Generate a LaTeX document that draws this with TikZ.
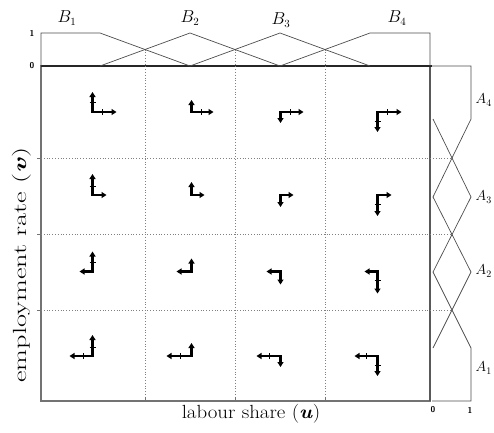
\documentclass[tikz,border=0pt]{standalone}
\usepackage{graphicx}
\usetikzlibrary{arrows.meta,calc}
\newcommand\vecpair[5]{%
  \coordinate (#1) at (#2,#3);
  \draw[vec] (#1) -- ++(#4,0);
  \draw[vec] (#1) -- ++(0,#5);
}
\newcommand\tickh[2]{\draw[tk] ($(#1)+(#2,-3)$) -- ++(0,6);}
\newcommand\tickv[2]{\draw[tk] ($(#1)+(-3,#2)$) -- ++(6,0);}
\begin{document}
\begin{tikzpicture}[x=1pt,y=-1pt,
  memb/.style={draw=black!70, line width=0.7pt},
  frame/.style={draw=black!55, line width=1.2pt},
  gridl/.style={draw=black!50, line width=0.8pt, dotted},
  vec/.style={line width=2.2pt, line cap=rect, -{Triangle[length=5pt,width=6pt]}},
  tk/.style={line width=0.7pt},
  small/.style={font=\sffamily\bfseries\fontsize{8.5}{8.5}\selectfont},
  mlab/.style={font=\fontsize{16}{16}\selectfont},
  alab/.style={font=\fontsize{14}{14}\selectfont, anchor=east, inner sep=1pt},
  big/.style={font=\fontsize{19}{19}\selectfont}
]
\useasboundingbox (0,0) rectangle (494,432);
% main frame
\draw[frame] (41,66) rectangle (430,401);
\draw[draw=black!65, line width=2pt] (430,66) -- (430,401);
\draw[draw=black!85, line width=1.5pt] (41,66) -- (432,66);
% dotted grid
\foreach \x in {145,235,325} \draw[gridl] (\x,49.5) -- (\x,401);
\foreach \y in {158,234.5,310} \draw[gridl] (41,\y) -- (452,\y);
% axis ticks
\foreach \y in {158,234.5,310} \draw[frame, line width=0.7pt] (37,\y) -- (41,\y);
\foreach \x in {145,235,325} \draw[frame, line width=0.7pt] (\x,397) -- (\x,401);
% top membership functions
\draw[memb] (41,66) -- (41,33) -- (100,33) -- (190,66);
\draw[memb] (100,66) -- (190,33) -- (280,66);
\draw[memb] (190,66) -- (280,33) -- (370,66);
\draw[memb] (280,66) -- (370,33) -- (430,33) -- (430,66);
% right membership functions
\draw[memb] (432,66) -- (471,66) -- (471,119) -- (433,197);
\draw[memb] (433,119) -- (471,197) -- (433,272);
\draw[memb] (433,197) -- (471,272) -- (433,348);
\draw[memb] (433,272) -- (471,348) -- (471,401) -- (432,401);
% labels of membership panels
\node[small] (one) at (32,33) {1};
\node[small] (zero) at (32,66) {0};
\node[small] (rzero) at (433,410) {0};
\node[small] (rone) at (470,410) {1};
\node[mlab] (B1) at (67,18) {$B_1$};
\node[mlab] (B2) at (190,18) {$B_2$};
\node[mlab] (B3) at (281,20) {$B_3$};
\node[mlab] (B4) at (397,18) {$B_4$};
\node[alab] (A4) at (493,100) {$A_4$};
\node[alab] (A3) at (493,197) {$A_3$};
\node[alab] (A2) at (493,271) {$A_2$};
\node[alab] (A1) at (493,368) {$A_1$};
% axis labels
\node[big] (xl) at (251,414) {\scalebox{1.1}[1]{labour share (\textbf{\textit{u}})}};
\node[big, rotate=90] (yl) at (22,265) {\scalebox{1.49}[1]{employment rate (\textbf{\textit{v}})}};
% vector field
\vecpair{a41}{92.5}{112}{24}{-20} \tickh{a41}{10} \tickv{a41}{-10}
\vecpair{a42}{191.5}{112}{22}{-12} \tickh{a42}{10}
\vecpair{a43}{280.5}{112}{23}{11} \tickh{a43}{10}
\vecpair{a44}{377.5}{112}{24}{20} \tickh{a44}{10} \tickv{a44}{9}
\vecpair{a31}{92.5}{195}{14}{-21} \tickv{a31}{-9}
\vecpair{a32}{191.5}{195}{13}{-13}
\vecpair{a33}{280.5}{195}{13}{12}
\vecpair{a34}{377.5}{195}{14}{21} \tickv{a34}{9}
\vecpair{a21}{92.5}{271.5}{-13}{-20} \tickv{a21}{-9}
\vecpair{a22}{191.5}{271.5}{-15}{-13}
\vecpair{a23}{280.5}{271.5}{-14}{13}
\vecpair{a24}{377.5}{271.5}{-13}{22} \tickv{a24}{9}
\vecpair{a11}{92.5}{356}{-23}{-21} \tickh{a11}{-9} \tickv{a11}{-9}
\vecpair{a12}{191.5}{356}{-25}{-13} \tickh{a12}{-11}
\vecpair{a13}{280.5}{356}{-24}{11} \tickh{a13}{-11}
\vecpair{a14}{377.5}{356}{-23}{20} \tickh{a14}{-11} \tickv{a14}{9}
\end{tikzpicture}
\end{document}
